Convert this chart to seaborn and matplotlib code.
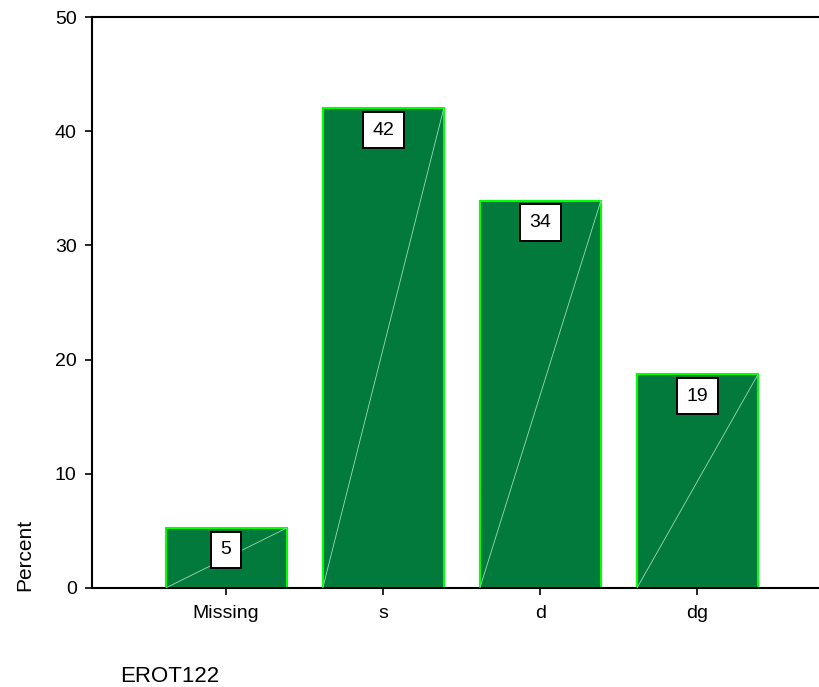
import matplotlib
matplotlib.use("Agg")
import matplotlib.pyplot as plt
import seaborn as sns
import pandas as pd

categories = ["Missing", "s", "d", "dg"]
percents = [5.25, 42.0, 33.9, 18.7]
labels = ["5", "42", "34", "19"]

sns.set_style("white")
plt.rcParams["font.family"] = ["Liberation Sans", "DejaVu Sans"]
plt.rcParams["text.color"] = "black"

df = pd.DataFrame({"cat": categories, "pct": percents})

fig = plt.figure(figsize=(8.2, 6.87), dpi=100)
ax = fig.add_axes([92 / 820, 1 - 588 / 687, (820 - 92) / 820, (588 - 17) / 687])

sns.barplot(data=df, x="cat", y="pct", order=categories, color="#017a3c",
            saturation=1, width=0.77, edgecolor="#00ff00", linewidth=1.5, ax=ax)

# thin diagonal line inside each bar, like the original export
for p in ax.patches:
    x0, w, h = p.get_x(), p.get_width(), p.get_height()
    ax.plot([x0, x0 + w], [0, h], color="#9fd8b8", lw=0.6, zorder=3)

for p, lab in zip(ax.patches, labels):
    ax.annotate(lab, (p.get_x() + p.get_width() / 2, p.get_height()),
                xytext=(0, -9.5), textcoords="offset points", ha="center", va="top",
                fontsize=14, color="black", zorder=5,
                bbox=dict(boxstyle="square,pad=0.5", fc="white", ec="black", lw=1.4))

ax.set_ylim(0, 50)
ax.set_xlim(-0.854, 3.78)
ax.set_yticks([0, 10, 20, 30, 40, 50])
ax.tick_params(axis="both", direction="out", length=5, width=1.2, colors="black",
               labelsize=14, left=True, bottom=True)
ax.tick_params(axis="x", pad=7)
ax.tick_params(axis="y", pad=6)
for s in ["left", "top", "bottom"]:
    ax.spines[s].set_visible(True)
    ax.spines[s].set_color("black")
    ax.spines[s].set_linewidth(1.5)
ax.spines["right"].set_visible(False)

ax.set_xlabel("")
ax.set_ylabel("")
fig.text(25 / 820, 1 - 555 / 687, "Percent", rotation=90, ha="center", va="center", fontsize=15)
fig.text(120 / 820, 1 - 676 / 687, "EROT122", ha="left", va="center", fontsize=16)

fig.savefig("out.png", dpi=100)
